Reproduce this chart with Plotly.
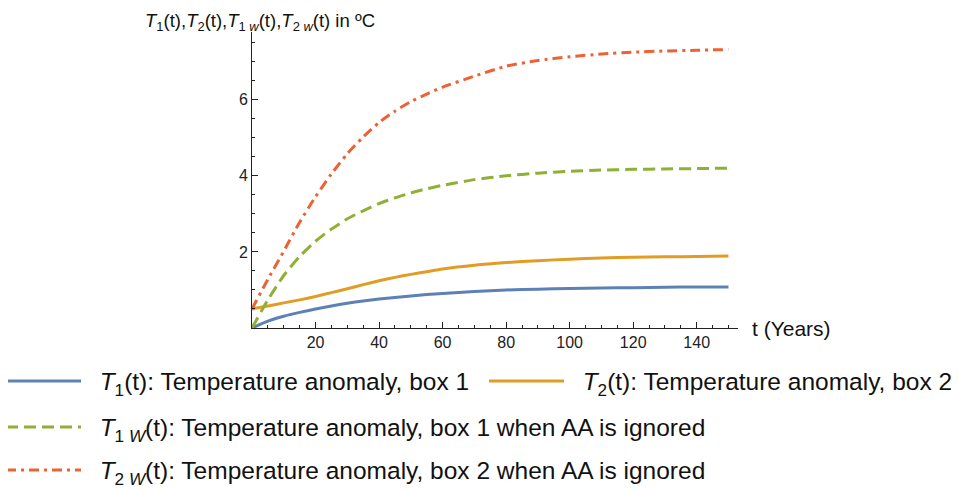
import plotly.graph_objects as go

t_years = [0, 5, 10, 15, 20, 25, 30, 35, 40, 45, 50, 55, 60, 70, 80, 90, 100, 110, 120, 130, 140, 150]
T1 = [0.00, 0.18, 0.31, 0.41, 0.50, 0.58, 0.65, 0.71, 0.76, 0.80, 0.84, 0.88, 0.91, 0.96, 1.00, 1.02, 1.04, 1.05, 1.06, 1.07, 1.08, 1.08]
T2 = [0.50, 0.58, 0.66, 0.74, 0.83, 0.93, 1.03, 1.14, 1.24, 1.33, 1.41, 1.48, 1.55, 1.65, 1.72, 1.77, 1.81, 1.84, 1.86, 1.87, 1.88, 1.89]
T1w = [0.00, 0.74, 1.38, 1.88, 2.28, 2.60, 2.87, 3.08, 3.27, 3.42, 3.55, 3.66, 3.75, 3.90, 4.00, 4.07, 4.12, 4.15, 4.17, 4.18, 4.19, 4.20]
T2w = [0.50, 1.28, 2.02, 2.78, 3.45, 4.05, 4.58, 5.02, 5.40, 5.70, 5.95, 6.15, 6.33, 6.62, 6.88, 7.03, 7.13, 7.20, 7.25, 7.28, 7.30, 7.32]

x_ticks = [20, 40, 60, 80, 100, 120, 140]
y_ticks = [2, 4, 6]

GAP = "&nbsp;" * 2
names = [
    GAP + "<i>T</i><sub>1</sub>(t): Temperature anomaly, box 1",
    GAP + "<i>T</i><sub>2</sub>(t): Temperature anomaly, box 2",
    GAP + "<i>T</i><sub>1 <i>W</i></sub>(t): Temperature anomaly, box 1 when AA is ignored",
    GAP + "<i>T</i><sub>2 <i>W</i></sub>(t): Temperature anomaly, box 2 when AA is ignored",
]
colors = ["#5E81B5", "#E19C24", "#8FB032", "#EB6235"]
dashes = ["solid", "solid", "12px,6px", "10px,5px,3px,5px"]
legends = ["legend", "legend2", "legend3", "legend4"]
series = [T1, T2, T1w, T2w]

fig = go.Figure()
for s, n, c, d, lg in zip(series, names, colors, dashes, legends):
    fig.add_trace(go.Scatter(x=t_years, y=s, mode="lines", name=n, legend=lg,
                             line=dict(color=c, width=3, dash=d, shape="spline", smoothing=0.6)))

# page body has an 8px margin: work in page pixels, convert to figure pixels
OFF = 8
FW, FH = 951, 482
L, T, W, H = 252 - OFF, 32 - OFF, 486, 296
FONT = "Liberation Sans, Arial, sans-serif"

def px_x(p):
    return (p - OFF - L) / W

def px_y(p):
    return (T + H - (p - OFF)) / H

common_leg = dict(orientation="h", xanchor="left", yanchor="middle",
                  font=dict(family=FONT, size=24.5, color="#111"),
                  itemwidth=75, bgcolor="rgba(0,0,0,0)")

fig.update_layout(
    width=FW, height=FH,
    margin=dict(l=L, r=FW - L - W, t=T, b=FH - T - H, autoexpand=False),
    paper_bgcolor="white", plot_bgcolor="white",
    font=dict(family=FONT, size=16, color="#222"),
    xaxis=dict(range=[0, 153], tickmode="array", tickvals=x_ticks,
               ticks="inside", ticklen=6, tickwidth=1, tickcolor="#222",
               showline=True, linecolor="#222", linewidth=1, showgrid=False, zeroline=False,
               minor=dict(dtick=5, tick0=0, ticks="inside", ticklen=3, tickcolor="#222", showgrid=False)),
    yaxis=dict(range=[0, 7.78], tickmode="array", tickvals=y_ticks,
               ticks="inside", ticklen=6, tickwidth=1, tickcolor="#222",
               showline=True, linecolor="#222", linewidth=1, showgrid=False, zeroline=False,
               minor=dict(dtick=0.5, tick0=0, ticks="inside", ticklen=3, tickcolor="#222", showgrid=False)),
    legend=dict(x=px_x(1), y=px_y(381), **common_leg),
    legend2=dict(x=px_x(484), y=px_y(381), **common_leg),
    legend3=dict(x=px_x(1), y=px_y(427), **common_leg),
    legend4=dict(x=px_x(1), y=px_y(470), **common_leg),
    showlegend=True,
)

fig.add_annotation(xref="paper", yref="paper", x=px_x(143), y=px_y(8), xanchor="left", yanchor="top",
                   text="<i>T</i><sub>1</sub>(t),<i>T</i><sub>2</sub>(t),<i>T</i><sub>1 <i>w</i></sub>(t),<i>T</i><sub>2 <i>w</i></sub>(t) in ºC",
                   showarrow=False, font=dict(family=FONT, size=18.5, color="#111"))
fig.add_annotation(xref="paper", yref="y", x=1, y=0, xanchor="left", yanchor="middle", xshift=12,
                   text="t (Years)", showarrow=False, font=dict(family=FONT, size=21, color="#111"))

fig.write_html("out.html")
